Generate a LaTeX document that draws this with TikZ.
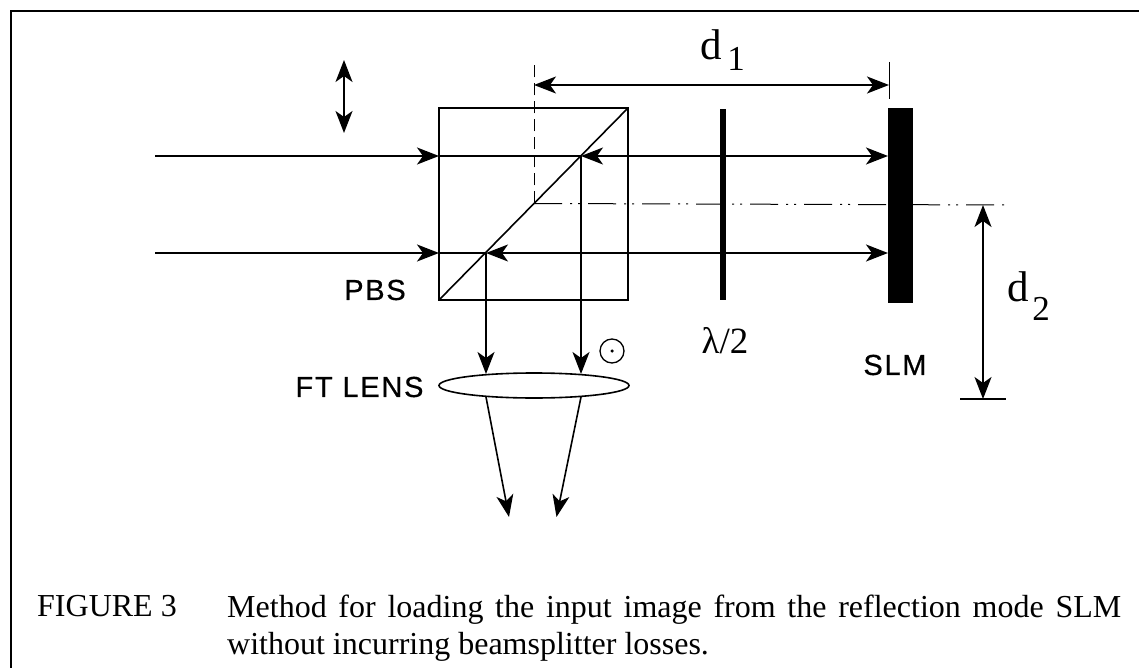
\documentclass[tikz,border=0pt]{standalone}
\usepackage{fontspec}
\setmainfont{Liberation Serif}
\setsansfont[LetterSpace=6,FakeBold=0.6]{Liberation Sans}
\usetikzlibrary{arrows.meta,shapes.geometric}
\begin{document}
\begin{tikzpicture}[
	x=1pt,
	y=-1pt,
	beam/.style={
		line width=1.6pt
	},
	rayarrow/.style={
		beam,
		-{Stealth[length=22pt,width=17pt,inset=6pt]}
	},
	dimarrow/.style={
		beam,
		{Stealth[length=22pt,width=17pt,inset=6pt]}-{Stealth[length=22pt,width=17pt,inset=6pt]}
	},
	thinline/.style={
		line width=1pt
	},
	axisline/.style={
		line width=1pt,
		dash pattern=on 28pt off 8pt on 2pt off 6pt on 2pt off 8pt
	},
	smalllabel/.style={
		font=\sffamily\fontsize{29}{29}\selectfont
	},
	biglabel/.style={
		font=\rmfamily\fontsize{43}{43}\selectfont
	},
	sublabel/.style={
		font=\rmfamily\fontsize{35}{35}\selectfont
	},
	caption/.style={
		font=\rmfamily\fontsize{32}{32}\selectfont,
		anchor=base west,
		inner sep=0pt
	}
]

\useasboundingbox (0,0) rectangle (1139,668);

% frame
\draw[line width=2.4pt] (11,668) -- (11,11) -- (1139,11);

% cube
\coordinate (cubeTL) at (439,108);
\coordinate (cubeTR) at (628,108);
\coordinate (cubeBL) at (439,300);
\coordinate (cubeBR) at (628,300);
\draw[beam] (cubeTL) -- (cubeTR) -- (cubeBR) -- (cubeBL) -- cycle;
\draw[beam] (cubeBL) -- (cubeTR);

% slm and half wave plate
\node (slm) at (900.5,205.5) [draw=none,fill=black,minimum width=25pt,minimum height=195pt,inner sep=0pt] {};
\node (plate) at (723,204.5) [draw=none,fill=black,minimum width=6pt,minimum height=191pt,inner sep=0pt] {};

% beams
\coordinate (inA) at (155,156);
\coordinate (inB) at (155,253);
\coordinate (cubeA) at (439,156);
\coordinate (cubeB) at (439,253);
\coordinate (splitA) at (581,156);
\coordinate (splitB) at (486,253);
\coordinate (slmA) at (888,156);
\coordinate (slmB) at (888,253);

\foreach \name in {A,B} {
	\draw[rayarrow] (in\name) -- (cube\name);
	\draw[beam] (cube\name) -- (split\name);
	\draw[dimarrow] (split\name) -- (slm\name);
}

% lens
\node (lens) at (534,385.5) [ellipse,draw,line width=1.6pt,minimum width=190pt,minimum height=25pt,inner sep=0pt] {};
\coordinate (lensTopA) at (581,374);
\coordinate (lensTopB) at (486,374);
\coordinate (lensLowA) at (581,397);
\coordinate (lensLowB) at (486,397);
\coordinate (outA) at (556.5,517);
\coordinate (outB) at (509,517);
\foreach \name in {A,B} {
	\draw[rayarrow] (split\name) -- (lensTop\name);
	\draw[rayarrow] (lensLow\name) -- (out\name);
}

% dimensions
\coordinate (pivot) at (534,203.5);
\coordinate (dimTop) at (534,60);
\coordinate (dimLeft) at (534,85);
\coordinate (dimRight) at (889,85);
\coordinate (tickTop) at (889,62);
\coordinate (tickLow) at (889,99);
\coordinate (axisEnd) at (1007,205);
\coordinate (heightTop) at (983,205);
\coordinate (heightLow) at (983,399);
\coordinate (baseLeft) at (960,399);
\coordinate (baseRight) at (1006,399);
\coordinate (polTop) at (344,60);
\coordinate (polLow) at (344,133);

\draw[thinline,dash pattern=on 12pt off 6pt] (pivot) -- (dimTop);
\draw[axisline] (pivot) -- (axisEnd);
\draw[dimarrow] (dimLeft) -- (dimRight);
\draw[thinline] (tickTop) -- (tickLow);
\draw[dimarrow] (heightTop) -- (heightLow);
\draw[beam] (baseLeft) -- (baseRight);
\draw[dimarrow] (polTop) -- (polLow);

% polarisation mark
\node (polmark) at (612,351) [circle,draw,line width=1.3pt,minimum size=24pt,inner sep=0pt] {};
\node (poldot) at (polmark.center) [circle,fill=black,minimum size=3.5pt,inner sep=0pt] {};

% labels
\node (pbslabel) at (375,290) [smalllabel] {PBS};
\node (lenslabel) at (427,387) [smalllabel,anchor=east] {FT LENS};
\node (slmlabel) at (895,365) [smalllabel] {SLM};
\node (waveplate) at (725,341) [font=\rmfamily\fontsize{37}{37}\selectfont] {λ/2};
\node (donelabel) at (711,45) [biglabel] {d};
\node (donesub) at (736,59) [sublabel] {1};
\node (dtwolabel) at (1018,287) [biglabel] {d};
\node (dtwosub) at (1041,309) [sublabel] {2};

% caption
\node (figlabel) at (37,616) [caption] {FIGURE 3};
\node (captextA) at (227,617) [caption] {\makebox[894pt][s]{Method for loading the input image from the reflection mode SLM}};
\node (captextB) at (227,654) [caption] {without incurring beamsplitter losses.};

\end{tikzpicture}
\end{document}
